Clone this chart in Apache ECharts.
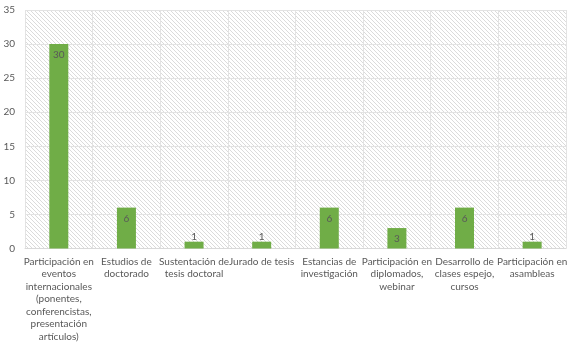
<!DOCTYPE html>
<html>
<head>
<meta charset="utf-8">
<script src="https://cdn.jsdelivr.net/npm/echarts@6/dist/echarts.min.js"></script>
<style>
  html, body { margin: 0; padding: 0; background: #ffffff; }
  #chart { width: 570px; height: 343px; }
</style>
</head>
<body>
<div id="chart"></div>
<script>
// Activities and counts
const categories = [
  'Participación en\neventos\ninternacionales\n(ponentes,\nconferencistas,\npresentación\nartículos)',
  'Estudios de\ndoctorado',
  'Sustentación de\ntesis doctoral',
  'Jurado de tesis',
  'Estancias de\ninvestigación',
  'Participación en\ndiplomados,\nwebinar',
  'Desarrollo de\nclases espejo,\ncursos',
  'Participación en\nasambleas'
];
const counts = [30, 6, 1, 1, 6, 3, 6, 1];
const yTicks = { min: 0, max: 35, step: 5 };

// Diagonal hatch (transparent between strokes) for the plot background
function hatchPattern() {
  const c = document.createElement('canvas');
  c.width = 4; c.height = 4;
  const g = c.getContext('2d');
  g.strokeStyle = 'rgba(190,190,190,0.55)';
  g.lineWidth = 1;
  g.beginPath();
  g.moveTo(-1, -1); g.lineTo(5, 5);
  g.moveTo(-1, 3); g.lineTo(1, 5);
  g.moveTo(3, -1); g.lineTo(5, 1);
  g.stroke();
  return c;
}

const textColor = '#595959';
const fontFamily = 'Lato, "Liberation Sans", sans-serif';

// Small bars get their label just above the bar
const barData = counts.map(v => ({
  value: v,
  label: v < 2 ? { position: 'top', distance: 0 } : undefined
}));

const chart = echarts.init(document.getElementById('chart'));
chart.setOption({
  animation: false,
  textStyle: { fontFamily: fontFamily },
  grid: { left: 25, right: 0, top: 10, bottom: 92 },
  xAxis: {
    type: 'category',
    data: categories,
    axisLine: { lineStyle: { color: '#d9d9d9' } },
    axisTick: { show: false },
    splitLine: { show: true, interval: 0, lineStyle: { color: '#e3e3e3' } },
    axisLabel: {
      interval: 0,
      color: textColor,
      fontSize: 10,
      lineHeight: 12.5,
      margin: 7,
      fontFamily: fontFamily
    }
  },
  yAxis: {
    type: 'value',
    min: yTicks.min,
    max: yTicks.max,
    interval: yTicks.step,
    axisLine: { show: false },
    axisTick: { show: false },
    splitLine: { lineStyle: { color: '#e3e3e3' } },
    axisLabel: { color: textColor, fontSize: 10, margin: 10, fontFamily: fontFamily }
  },
  series: [{
    type: 'bar',
    data: barData,
    barWidth: 19,
    itemStyle: { color: '#70ad47' },
    label: {
      show: true,
      position: 'insideTop',
      distance: 6,
      color: textColor,
      fontSize: 10,
      fontFamily: fontFamily
    },
    markArea: {
      silent: true,
      z: -1,
      itemStyle: { color: { image: hatchPattern(), repeat: 'repeat' } },
      data: [[{ yAxis: yTicks.min }, { yAxis: yTicks.max }]]
    }
  }]
});
</script>
</body>
</html>
